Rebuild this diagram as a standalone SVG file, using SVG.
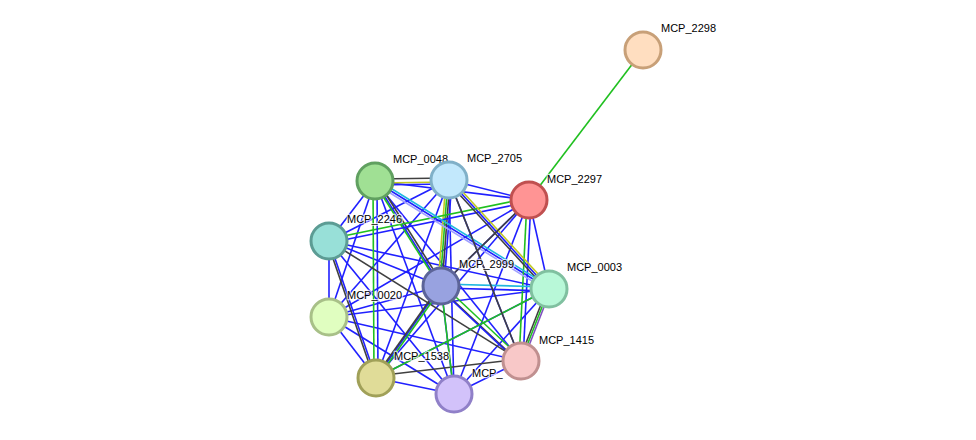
<svg xmlns="http://www.w3.org/2000/svg" width="976" height="440" viewBox="0 0 976 440">
<style>
.e line{stroke-width:1.6;fill:none}
.b{stroke:#2020ff}.g{stroke:#20c020}.k{stroke:#404040}.y{stroke:#c0c820}.c{stroke:#20b8e0}.p{stroke:#a0a0ff}.m{stroke:#8050c0}
.n circle{stroke-width:3}
.n text{font-family:"Liberation Sans",Arial,sans-serif;font-size:11px;fill:#000;stroke:#fff;stroke-width:2.5;paint-order:stroke;stroke-opacity:0.7}
</style>
<rect width="976" height="440" fill="#fff"/>
<g id="connectors" class="e">
<line class="g" x1="643" y1="50" x2="529" y2="200"/>
<!-- blue mesh -->
<g class="b">
<line x1="375" y1="181" x2="329" y2="241"/><line x1="375" y1="181" x2="441" y2="286"/><line x1="375" y1="181" x2="549" y2="289"/><line x1="375" y1="181" x2="329" y2="317"/><line x1="375" y1="181" x2="521" y2="361"/><line x1="375" y1="181" x2="454" y2="394"/><line x1="375" y1="181" x2="529" y2="200"/>
<line x1="449" y1="180" x2="329" y2="241"/><line x1="449" y1="180" x2="529" y2="200"/><line x1="449" y1="180" x2="549" y2="289"/><line x1="449" y1="180" x2="329" y2="317"/><line x1="449" y1="180" x2="521" y2="361"/><line x1="449" y1="180" x2="376" y2="378"/><line x1="449" y1="180" x2="454" y2="394"/>
<line x1="329" y1="241" x2="441" y2="286"/><line x1="329" y1="241" x2="549" y2="289"/><line x1="329" y1="241" x2="329" y2="317"/><line x1="329" y1="241" x2="454" y2="394"/><line x1="329" y1="241" x2="376" y2="378"/>
<line x1="529" y1="200" x2="441" y2="286"/><line x1="529" y1="200" x2="549" y2="289"/><line x1="529" y1="200" x2="329" y2="317"/><line x1="529" y1="200" x2="376" y2="378"/><line x1="529" y1="200" x2="454" y2="394"/>
<line x1="441" y1="286" x2="329" y2="317"/><line x1="441" y1="286" x2="376" y2="378"/><line x1="441" y1="286" x2="454" y2="394"/>
<line x1="549" y1="289" x2="329" y2="317"/><line x1="549" y1="289" x2="376" y2="378"/><line x1="549" y1="289" x2="454" y2="394"/>
<line x1="329" y1="317" x2="376" y2="378"/><line x1="329" y1="317" x2="521" y2="361"/><line x1="329" y1="317" x2="454" y2="394"/>
<line x1="376" y1="378" x2="454" y2="394"/><line x1="454" y1="394" x2="521" y2="361"/>
</g>
<!-- multi-evidence edges -->
<line class="k" x1="375" y1="179" x2="449" y2="178"/><line class="y" x1="375" y1="183" x2="449" y2="182"/><line class="b" x1="375" y1="185" x2="449" y2="184"/>
<line class="y" x1="446" y1="180" x2="438" y2="286"/><line class="g" x1="448" y1="180" x2="440" y2="286"/><line class="k" x1="450" y1="180" x2="442" y2="286"/><line class="b" x1="452" y1="180" x2="444" y2="286"/>
<line class="k" x1="377" y1="180" x2="443" y2="285"/><line class="g" x1="374" y1="182" x2="440" y2="287"/>
<line class="g" x1="329" y1="239" x2="529" y2="198"/><line class="b" x1="329" y1="243" x2="529" y2="202"/>
<line class="g" x1="373" y1="181" x2="374" y2="378"/><line class="b" x1="377" y1="181" x2="378" y2="378"/>
<line class="g" x1="442" y1="284" x2="522" y2="359"/><line class="k" x1="440" y1="288" x2="520" y2="363"/><line class="b" x1="441" y1="290" x2="521" y2="365"/>
<line class="g" x1="527" y1="200" x2="519" y2="361"/><line class="b" x1="531" y1="200" x2="523" y2="361"/>
<line class="k" x1="547" y1="289" x2="519" y2="361"/><line class="g" x1="549" y1="289" x2="521" y2="361"/><line class="m" x1="551" y1="289" x2="523" y2="361"/>
<line class="c" x1="441" y1="284" x2="549" y2="287"/><line class="b" x1="441" y1="288" x2="549" y2="291"/>
<line class="y" x1="450" y1="178" x2="550" y2="287"/><line class="k" x1="448" y1="182" x2="548" y2="291"/>
<line class="c" x1="376" y1="179" x2="550" y2="287"/><line class="p" x1="374" y1="183" x2="548" y2="291"/>
<line class="k" x1="327" y1="241" x2="374" y2="378"/><line class="k" x1="329" y1="241" x2="521" y2="361"/>
<line class="k" x1="376" y1="376" x2="521" y2="359"/><line class="k" x1="529" y1="200" x2="441" y2="286"/>
<line class="g" x1="376" y1="378" x2="549" y2="289"/><line class="k" x1="376" y1="376" x2="441" y2="284"/><line class="g" x1="378" y1="378" x2="443" y2="286"/>
<line class="k" x1="449" y1="180" x2="521" y2="361"/><line class="g" x1="441" y1="286" x2="454" y2="394"/>
</g>
<g id="n2298" class="n"><circle cx="643" cy="50" r="18" fill="#ffdec0" stroke="#c8a078"/><text x="661" y="32">MCP_2298</text></g>
<g id="n2297" class="n"><circle cx="529" cy="200" r="18" fill="#ff9494" stroke="#c05050"/><text x="547" y="183">MCP_2297</text></g>
<g id="n0048" class="n"><circle cx="375" cy="181" r="18" fill="#a0e094" stroke="#60a060"/><text x="393" y="163">MCP_0048</text></g>
<g id="n2705" class="n"><circle cx="449" cy="180" r="18" fill="#c2e8fc" stroke="#80b0c8"/><text x="467" y="162">MCP_2705</text></g>
<g id="n2246" class="n"><circle cx="329" cy="241" r="18" fill="#98e0d8" stroke="#5c9c94"/><text x="347" y="223">MCP_2246</text></g>
<g id="n2999" class="n"><circle cx="441" cy="286" r="18" fill="#98a2e0" stroke="#5c6498"/><text x="459" y="268">MCP_2999</text></g>
<g id="n0003" class="n"><circle cx="549" cy="289" r="18" fill="#b8f8d8" stroke="#80c0a0"/><text x="567" y="271">MCP_0003</text></g>
<g id="n0020" class="n"><circle cx="329" cy="317" r="18" fill="#e0fec0" stroke="#a8c088"/><text x="347" y="299">MCP_0020</text></g>
<g id="n1538" class="n"><circle cx="376" cy="378" r="18" fill="#e0dc98" stroke="#a0a058"/><text x="394" y="360">MCP_1538</text></g>
<g id="nlav" class="n"><circle cx="454" cy="394" r="18" fill="#d2c2fa" stroke="#9080c8"/><text x="472" y="377">MCP_</text></g>
<g id="n1415" class="n"><circle cx="521" cy="361" r="18" fill="#f8c8c8" stroke="#c09090"/><text x="539" y="344">MCP_1415</text></g>
</svg>
